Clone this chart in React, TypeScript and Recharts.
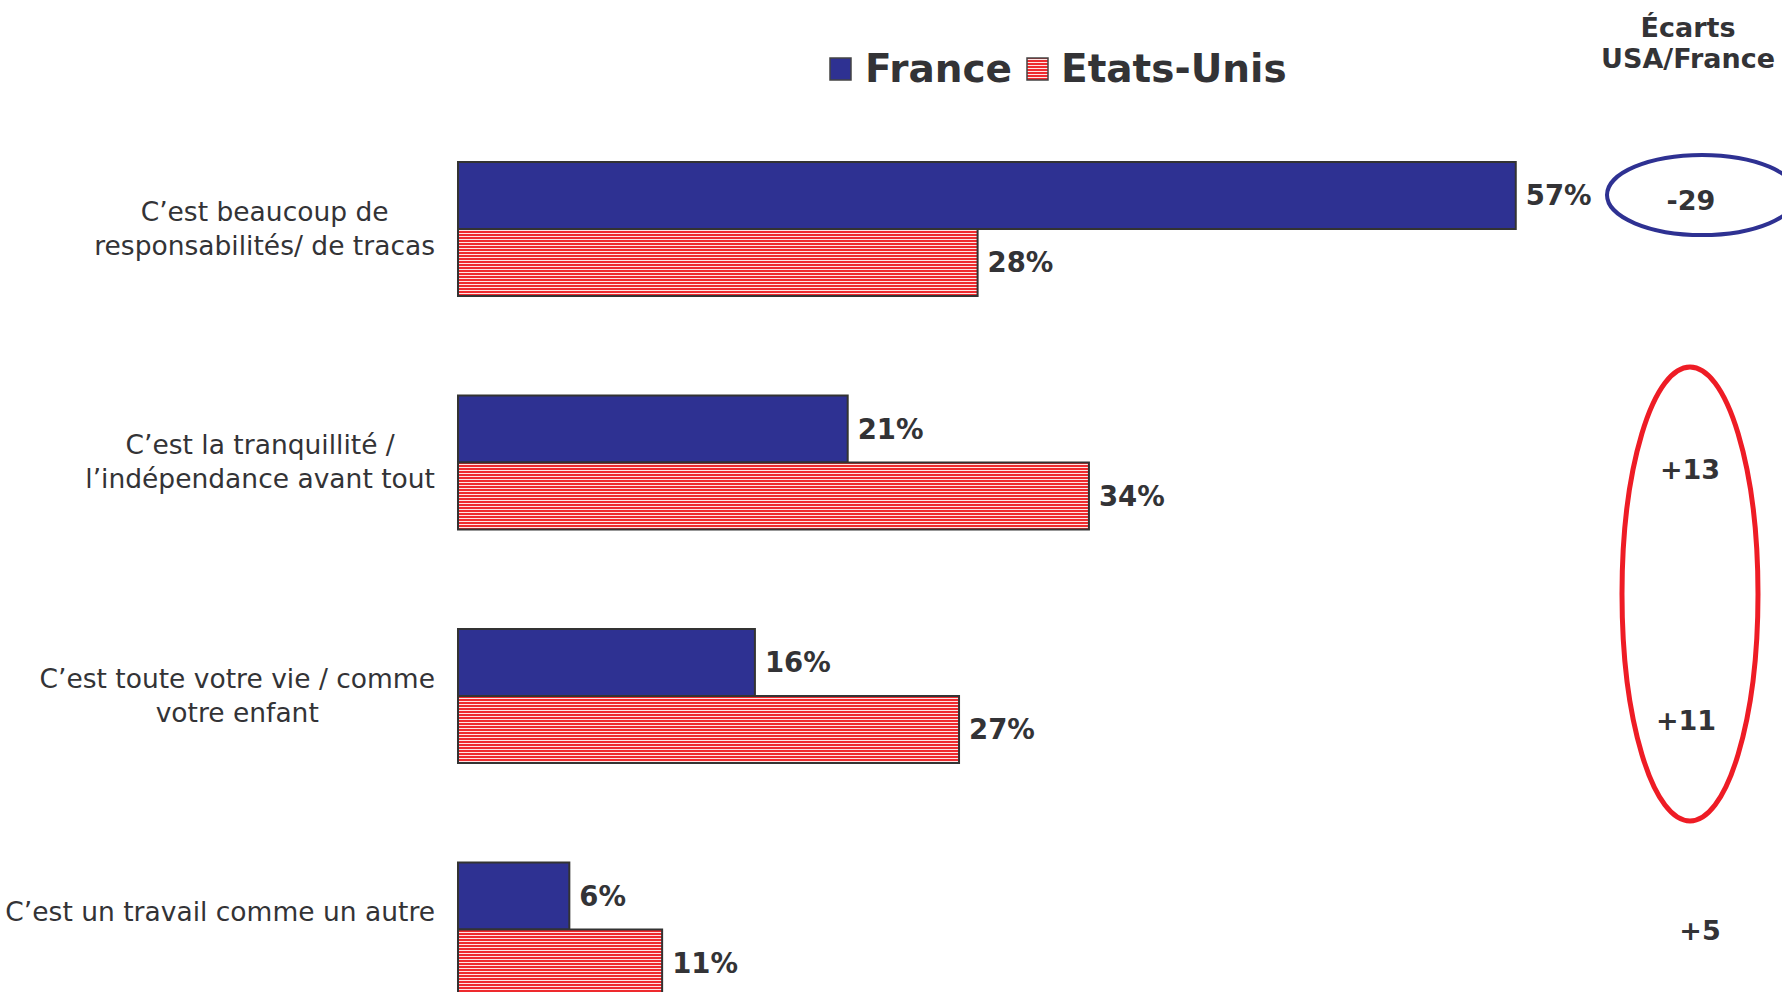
import React from 'react';
import { BarChart, Bar, XAxis, YAxis, LabelList } from 'recharts';

const categories = [
  ['C\u2019est beaucoup de', 'responsabilités/ de tracas'],
  ['C\u2019est la tranquillité /', 'l\u2019indépendance avant tout'],
  ['C\u2019est toute votre vie / comme', 'votre enfant'],
  ['C\u2019est un travail comme un autre', ''],
];
const france = [57, 21, 16, 6];
const usa = [28, 34, 27, 11];
const ecarts = ['-29', '+13', '+11', '+5'];

const data = categories.map((lines, i) => ({
  name: lines.join('|'),
  france: france[i],
  usa: usa[i],
  ecart: ecarts[i],
}));

const FONT = '"DejaVu Sans", Verdana, sans-serif';
const TEXT = '#333336';
const BLUE = '#2E3192';
const RED = '#EE1C25';

let ctx: CanvasRenderingContext2D | null = null;
const measure = (t: string, font: string) => {
  if (!ctx) ctx = document.createElement('canvas').getContext('2d');
  if (!ctx) return t.length * 14;
  ctx.font = font;
  return ctx.measureText(t).width;
};

const CategoryTick = (props: any) => {
  const { y, payload } = props;
  const lines: string[] = String(payload.value).split('|');
  const w = Math.max(...lines.map(l => measure(l, `26.5px ${FONT}`)));
  const cx = 435 - w / 2;
  return (
    <g>
      {lines.map((l, i) => (
        <text key={i} x={cx} y={y - 17 + i * 34} dy={9} textAnchor="middle"
          fontFamily={FONT} fontSize={26.5} fill={TEXT}>{l}</text>
      ))}
    </g>
  );
};

// diff offsets from row centre (the original puts them a bit irregularly)
const DIFF_DY = [-19, 16, 34, 10];
const DIFF_DX = [1, 0, -4, 10];

const EcartLabel = (props: any) => {
  const { y, index, value } = props;
  return (
    <text x={1690 + DIFF_DX[index]} y={y + DIFF_DY[index]} textAnchor="middle"
      fontFamily={FONT} fontSize={27} fontWeight="bold" fill={TEXT}>{value}</text>
  );
};

const labelStyle = { fontFamily: FONT, fontSize: 27.5, fontWeight: 'bold' as const, fill: TEXT };

export default function App() {
  return (
    <div style={{ position: 'fixed', left: 0, top: 0, width: 1782, height: 992, overflow: 'hidden', background: '#fff' }}>
      <BarChart width={1782} height={1046} data={data} layout="vertical"
        margin={{ top: 112, right: 25, bottom: 0, left: 0 }} barSize={67} barGap={0}>
        <defs>
          <pattern id="stripes" width="6" height="3" patternUnits="userSpaceOnUse">
            <rect width="6" height="3" fill="#FFE4E4" />
            <rect width="6" height="2" fill="#EE2A2E" />
          </pattern>
        </defs>
        <XAxis type="number" domain={[0, 70]} hide />
        <YAxis type="category" dataKey="name" width={458} axisLine={false} tickLine={false} tick={<CategoryTick />} />
        <Bar dataKey="france" fill={BLUE} stroke="#333" strokeWidth={2} isAnimationActive={false}>
          <LabelList dataKey="france" position="right" offset={10} formatter={(v: any) => `${v}%`} style={labelStyle} />
        </Bar>
        <Bar dataKey="usa" fill="url(#stripes)" stroke="#333" strokeWidth={2} isAnimationActive={false}>
          <LabelList dataKey="usa" position="right" offset={10} formatter={(v: any) => `${v}%`} style={labelStyle} />
          <LabelList dataKey="ecart" content={<EcartLabel />} />
        </Bar>
      </BarChart>
      <svg width={1782} height={992} style={{ position: 'absolute', left: 0, top: 0, pointerEvents: 'none' }}>
        <defs>
          <pattern id="stripes2" width="6" height="3" patternUnits="userSpaceOnUse">
            <rect width="6" height="3" fill="#FFE4E4" />
            <rect width="6" height="2" fill="#EE2A2E" />
          </pattern>
        </defs>
        {/* legend */}
        <rect x={830} y={58} width={21} height={22} fill={BLUE} stroke="#444" strokeWidth={1.5} />
        <text x={865} y={82} fontFamily={FONT} fontSize={39} fontWeight="bold" fill={TEXT}>France</text>
        <rect x={1027} y={58} width={21} height={22} fill="url(#stripes2)" stroke="#444" strokeWidth={1.5} />
        <text x={1061} y={82} fontFamily={FONT} fontSize={39} fontWeight="bold" fill={TEXT}>Etats-Unis</text>
        {/* header */}
        <text x={1688} y={37} textAnchor="middle" fontFamily={FONT} fontSize={27} fontWeight="bold" fill={TEXT}>Écarts</text>
        <text x={1688} y={68} textAnchor="middle" fontFamily={FONT} fontSize={27} fontWeight="bold" fill={TEXT}>USA/France</text>
        {/* circles */}
        <ellipse cx={1702} cy={195} rx={95} ry={40} fill="none" stroke={BLUE} strokeWidth={4} />
        <ellipse cx={1690} cy={594} rx={68} ry={227} fill="none" stroke={RED} strokeWidth={5} />
      </svg>
    </div>
  );
}
